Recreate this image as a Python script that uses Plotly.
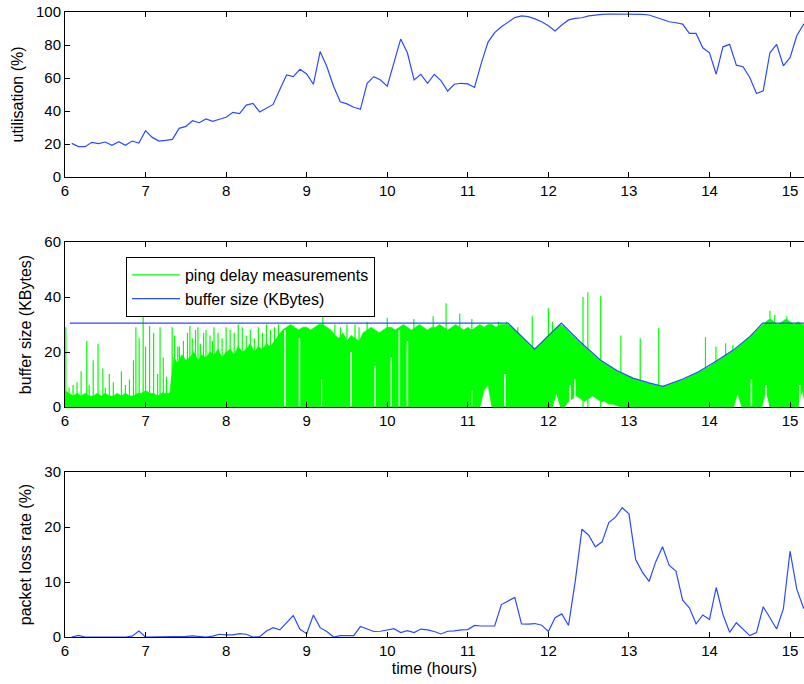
import plotly.graph_objects as go

# ---------------- data ----------------
# sample grid of the 5-minute series (hours)
sample_hours = [round(6 + k / 12, 4) for k in range(1, 112)]

utilisation = [20.4, 18.4, 18.4, 21.0, 20.2, 21.2, 19.2, 21.4, 19.2, 21.8,
               20.6, 28.1, 24.0, 21.8, 22.2, 22.8, 29.5, 30.7, 34.1, 32.9,
               35.2, 33.7, 35.0, 36.2, 39.2, 38.4, 43.6, 44.6, 39.4, 41.6,
               44.0, 53.0, 61.8, 60.8, 65.3, 62.4, 56.2, 76.0, 67.0, 55.0,
               45.6, 44.3, 42.3, 41.0, 56.8, 60.8, 58.8, 55.1, 69.0, 83.6,
               75.3, 58.8, 62.2, 56.8, 62.2, 58.4, 52.1, 56.2, 56.8, 56.4,
               54.3, 68.9, 81.6, 87.5, 91.1, 94.1, 96.6, 97.6, 97.2, 95.8,
               94.1, 91.7, 88.5, 92.1, 95.2, 96.1, 96.5, 97.6, 98.2, 98.6,
               98.8, 98.8, 98.8, 98.8, 98.8, 98.6, 98.2, 96.8, 95.5, 94.1,
               93.5, 92.7, 87.0, 87.0, 78.3, 75.3, 62.3, 78.9, 80.4, 67.8,
               66.8, 60.3, 50.6, 52.2, 75.3, 80.4, 67.4, 72.3, 85.6, 92.5,
               95.0]

packet_loss = [0, 0.3, 0, 0, 0, 0, 0, 0, 0, 0.15,
               1.1, 0, 0, 0, 0.1, 0.05, 0.05, 0.1, 0.2, 0.1,
               0, 0.15, 0.5, 0.4, 0.4, 0.6, 0.5, 0, 0.05, 1.1,
               1.7, 1.3, 2.6, 3.9, 1.4, 0.6, 4.0, 1.7, 1.0, 0,
               0.25, 0.2, 0.25, 1.9, 1.45, 1.0, 1.05, 1.3, 1.5, 0.8,
               1.15, 0.8, 1.45, 1.3, 1.0, 0.55, 1.05, 1.1, 1.3, 1.35,
               2.1, 2.0, 2.0, 2.0, 5.9, 6.5, 7.2, 2.4, 2.35, 2.45,
               2.15, 1.0, 3.5, 4.2, 2.1, 10.1, 19.6, 18.5, 16.4, 17.3,
               20.8, 21.8, 23.5, 22.4, 14.1, 11.8, 10.1, 13.7, 16.4, 13.0,
               12.0, 6.7, 5.3, 2.4, 4.0, 3.2, 9.0, 4.1, 0.85, 2.6,
               1.45, 0.25, 0.8, 5.5, 3.5, 1.45, 5.1, 15.6, 8.7, 5.3,
               4.0]

# ping delay: upper / lower envelope of the dense measurements, every 0.05 h
ping_hours = [round(6 + i / 20, 3) for i in range(0, 185)]
ping_high = [
    # 6.00 - 7.30
    6, 5, 4, 5, 4, 5, 4, 4, 5, 4, 5, 4, 4, 5, 4, 5, 4, 4, 5, 5,
    6, 5, 5, 4, 5, 5, 5,
    # 7.35 - 8.70
    18, 16, 19, 17, 18, 20, 17, 19, 18, 20, 19, 21, 18, 20, 21, 19, 22, 20,
    21, 23, 20, 22, 21, 23, 22, 24, 26, 28,
    # 8.75 - 9.30
    29, 30, 29, 28, 29, 29, 28, 29, 30, 30, 29, 28,
    # 9.35 - 9.70
    26, 25, 27, 24, 26, 25, 24, 27,
    # 9.75 - 10.20
    28, 29, 28, 27, 28, 29, 29, 28, 29, 30,
    # 10.25 - 11.50
    29, 28, 29, 30, 29, 28, 29, 29, 30, 29, 28, 29, 30, 29, 28, 29, 28, 29,
    30, 29, 30, 30, 29, 30, 30, 30,
    # 11.55 - 12.20
    29, 27.5, 26, 24.5, 23, 21.5, 21.5, 23, 24.5, 26, 27.5, 29, 30, 29,
    # 12.25 - 14.65
    27.4, 25.8, 24.5, 23.2, 21.8, 20.5, 19.2, 17.8, 16.8, 15.8, 14.8, 14.0,
    13.1, 12.4, 11.7, 11.0, 10.3, 9.8, 9.4, 9.0, 8.6, 8.2, 7.8, 7.4, 7.6,
    8.1, 8.6, 9.2, 9.8, 10.4, 11.1, 11.7, 12.4, 13.1, 13.9, 14.8, 15.7,
    16.6, 17.6, 18.6, 19.6, 20.6, 21.8, 23.0, 24.2, 25.4, 26.8, 28.3, 29.8,
    # 14.70 - 15.20
    31, 32, 31, 30, 31, 32, 31, 30, 31, 30, 30]
ping_low = [
    0, 0, 0, 0, 0, 0, 0, 0, 0, 0, 0, 0, 0, 0, 0, 0, 0, 0, 0, 0,
    0, 0, 0, 0, 0, 0, 0,
    0, 0, 0, 0, 0, 0, 0, 0, 0, 0, 0, 0, 0, 0, 0, 0, 0, 0,
    0, 0, 0, 0, 0, 0, 0, 0, 0, 0,
    0, 0, 0, 0, 0, 0, 0, 0, 0, 0, 0, 0,
    0, 0, 0, 0, 0, 0, 0, 0,
    0, 0, 0, 0, 0, 0, 0, 0, 0, 0,
    0, 0, 0, 0, 0, 0, 0, 0, 0, 0, 0, 0, 0, 0, 0, 0, 0, 0,
    0, 0, 0, 0, 0, 6, 8, 0,
    0, 0, 0, 0, 0, 0, 0, 0, 0, 0, 0, 0, 0, 0,
    0, 5, 0, 0, 2, 3, 4, 3, 2, 3, 4, 3,
    2, 2, 1, 1, 0.5, 0, 0, 0, 0, 0, 0, 0, 0, 0, 0, 0,
    0, 0, 0, 0, 0, 0, 0, 0, 0, 0, 0, 0,
    0, 0, 0, 0, 0, 0, 5, 0, 0, 0, 0, 0, 0,
    6, 0, 0, 0, 0, 0, 0, 0, 0, 6, 0]

# isolated delay spikes (hours, KBytes)
spike_hours = [6.01, 6.05, 6.10, 6.15, 6.20, 6.27, 6.30, 6.35, 6.41, 6.47,
               6.50, 6.55, 6.60, 6.70, 6.75, 6.80, 6.85, 6.88, 6.92, 6.97,
               7.00, 7.05, 7.10, 7.15, 7.18, 7.22, 7.26, 7.33, 7.36, 7.40,
               7.42, 7.47, 7.52, 7.55, 7.58, 7.62, 7.65, 7.68, 7.72, 7.75,
               7.80, 7.83, 7.85, 7.90, 7.95, 8.00, 8.05, 8.10, 8.15, 8.20,
               8.25, 8.30, 8.35, 8.40, 8.45, 8.50, 8.55, 8.60, 8.65, 9.20,
               9.35, 9.42, 9.50, 9.60, 9.65, 9.75, 10.00, 10.33, 10.57, 10.73,
               10.90, 11.05, 11.38, 11.48, 11.62, 11.80, 12.00, 12.05, 12.43,
               12.49, 12.65, 12.90, 13.14, 13.37, 13.95, 14.08, 14.20, 14.29,
               14.75, 14.81, 14.96]
spike_peaks = [29, 7, 8, 9, 13, 24, 8, 17, 23, 14,
               7, 12, 9, 13, 8, 10, 17, 29, 25, 33,
               22, 29.5, 27, 12, 29, 18, 11, 29, 26, 22,
               22, 24, 27, 29.5, 25, 28, 29, 23, 27, 28,
               26, 24, 29, 27, 25, 29, 28, 27, 30, 29,
               26, 28, 25, 29, 27, 30, 28, 29, 30, 33,
               30, 29, 30, 30, 29, 31, 32.5, 32, 33, 37.7,
               34, 32, 31, 31, 29, 33, 35.9, 31, 40,
               41.7, 40.5, 26, 25, 28.7, 25.4, 22, 23.2, 22.6,
               35, 33.5, 33]

# white gaps inside the dense measurements (hours, KBytes)
gap_hours = [8.73, 8.91, 9.19, 9.55, 9.85, 10.05, 10.15, 10.25, 11.05,
             11.46, 12.27, 12.33, 14.52, 14.70, 15.12]
gap_tops = [28, 25, 10, 20, 15, 18, 28, 24, 6, 12, 8, 10, 10, 8, 8]

# buffer size (KBytes)
buffer_hours = [6.06, 11.5, 11.83, 12.16, 12.39, 12.64, 12.85, 13.05, 13.26,
                13.42, 13.67, 13.87, 14.08, 14.29, 14.5, 14.66, 15.3]
buffer_size = [30.5, 30.5, 21.0, 30.5, 23.8, 17.2, 13.3, 10.5, 8.7,
               7.5, 10.2, 12.9, 16.6, 20.6, 25.6, 30.5, 30.5]

x_ticks = [6, 7, 8, 9, 10, 11, 12, 13, 14, 15]

# ---------------- figure ----------------
BLUE = "#2a4bff"
GREEN = "#00ff00"
FONT = "Liberation Sans, Arial, Helvetica, sans-serif"

fig = go.Figure()

fig.add_trace(go.Scatter(x=sample_hours, y=utilisation, mode="lines",
                         line=dict(color=BLUE, width=1.2), showlegend=False,
                         xaxis="x", yaxis="y"))

# ping delay band as a closed polygon
band_x = ping_hours + ping_hours[::-1]
band_y = ping_high + ping_low[::-1]
fig.add_trace(go.Scatter(x=band_x, y=band_y, mode="lines", fill="toself",
                         fillcolor=GREEN, line=dict(width=0.6, color=GREEN),
                         showlegend=False, hoverinfo="skip",
                         xaxis="x2", yaxis="y2"))
gx, gy = [], []
for h, top in zip(gap_hours, gap_tops):
    gx += [h, h, None]
    gy += [0.3, top, None]
fig.add_trace(go.Scatter(x=gx, y=gy, mode="lines", connectgaps=False,
                         line=dict(color="white", width=1.5),
                         showlegend=False, hoverinfo="skip",
                         xaxis="x2", yaxis="y2"))
sx, sy = [], []
for h, p in zip(spike_hours, spike_peaks):
    sx += [h, h, None]
    sy += [0, p, None]
fig.add_trace(go.Scatter(x=sx, y=sy, mode="lines", connectgaps=False,
                         line=dict(color=GREEN, width=1.2),
                         name="ping delay measurements",
                         xaxis="x2", yaxis="y2"))
fig.add_trace(go.Scatter(x=buffer_hours, y=buffer_size, mode="lines",
                         line=dict(color=BLUE, width=1.2),
                         name="buffer size (KBytes)",
                         xaxis="x2", yaxis="y2"))

fig.add_trace(go.Scatter(x=sample_hours, y=packet_loss, mode="lines",
                         line=dict(color=BLUE, width=1.2), showlegend=False,
                         xaxis="x3", yaxis="y3"))

xr = [6, 15.173]
xcommon = dict(range=xr, tickvals=x_ticks, ticks="inside", ticklen=5,
               tickcolor="black", showline=True, linecolor="black",
               linewidth=1, mirror="ticks", showgrid=False, zeroline=False,
               automargin=False, ticklabeloverflow="allow",
               tickfont=dict(size=15, color="black", family=FONT))
ycommon = dict(ticks="inside", ticklen=5, tickcolor="black", showline=True,
               linecolor="black", linewidth=1, showgrid=False, zeroline=False,
               automargin=False, ticklabeloverflow="allow",
               tickfont=dict(size=15, color="black", family=FONT))

fig.update_layout(
    width=804, height=684,
    margin=dict(l=65, r=0, t=12, b=47),
    plot_bgcolor="white", paper_bgcolor="white",
    font=dict(family=FONT, size=16, color="black"),
    xaxis=dict(**xcommon, anchor="y"),
    yaxis=dict(**ycommon, domain=[0.736, 1.0], range=[0, 100],
               tickvals=[0, 20, 40, 60, 80, 100],
               title=dict(text="utilisation (%)", standoff=8,
                          font=dict(size=16))),
    xaxis2=dict(**xcommon, anchor="y2"),
    yaxis2=dict(**ycommon, domain=[0.368, 0.632], range=[0, 60],
                tickvals=[0, 20, 40, 60],
                title=dict(text="buffer size (KBytes)", standoff=8,
                           font=dict(size=16))),
    xaxis3=dict(**xcommon, anchor="y3",
                title=dict(text="time (hours)", standoff=4,
                           font=dict(size=16))),
    yaxis3=dict(**ycommon, domain=[0.0, 0.264], range=[0, 30],
                tickvals=[0, 10, 20, 30],
                title=dict(text="packet loss rate (%)", standoff=8,
                           font=dict(size=16))),
    legend=dict(x=0.0825, y=0.608, xanchor="left", yanchor="top",
                traceorder="normal",
                bordercolor="black", borderwidth=1, bgcolor="white",
                font=dict(size=16, family=FONT), itemwidth=48,
                tracegroupgap=0),
)

# remove the default 8px page margin so the figure fills the window
fig.write_html("out.html",
               config={"displayModeBar": False},
               post_script="document.body.style.margin='0px';"
                           "document.body.style.overflow='hidden';")
